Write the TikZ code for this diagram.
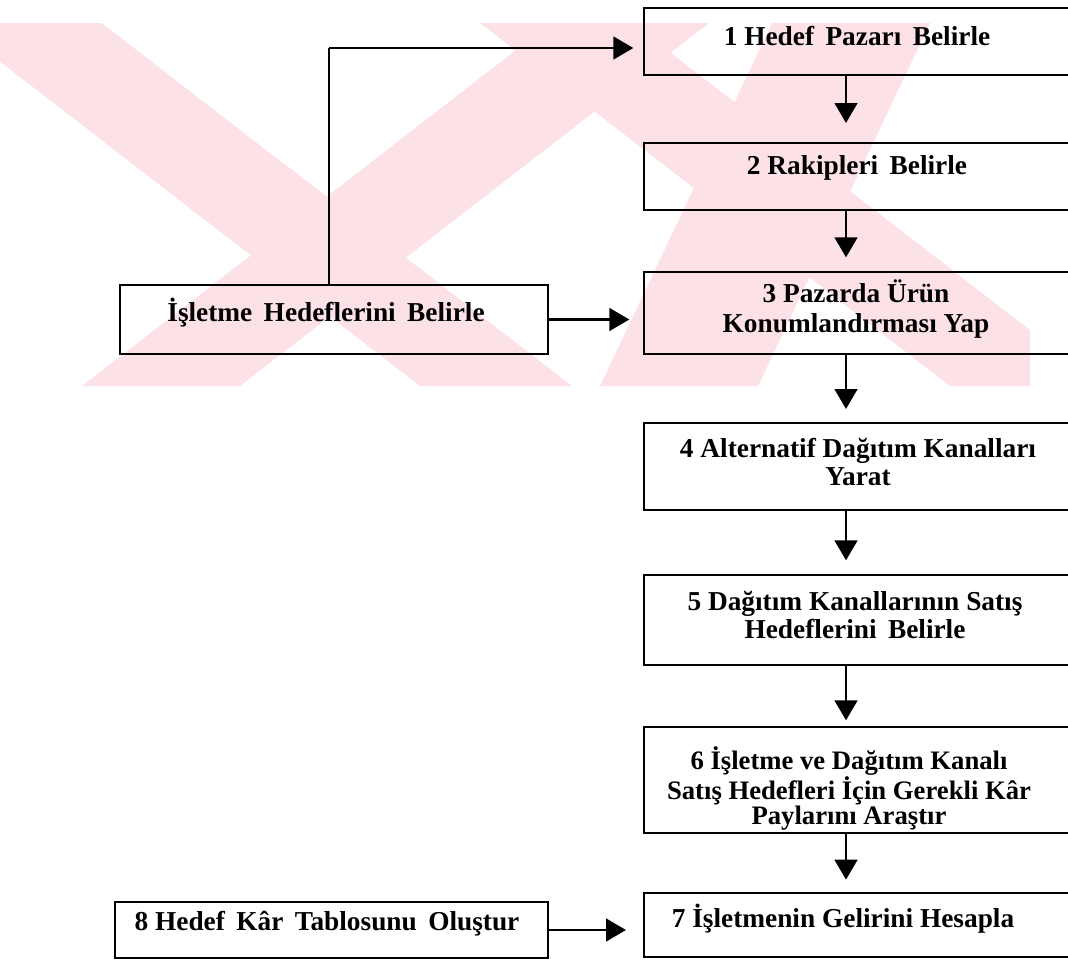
\documentclass[tikz,border=0pt]{standalone}
\usepackage{fontspec}
\setmainfont{Liberation Serif}
\usetikzlibrary{arrows.meta}
\definecolor{wmpink}{RGB}{252,226,231}
\begin{document}
\begin{tikzpicture}[x=0.75pt,y=-0.75pt,
  box/.style={draw, line width=2.2pt, inner sep=0pt, outer sep=0pt},
  lbl/.style={align=center, inner sep=0pt, font=\fontsize{20.5}{21}\selectfont\bfseries},
  arr/.style={line width=2pt, -{Triangle[length=15pt,width=17pt]}},
  link/.style={line width=2pt}]
\useasboundingbox (0,0) rectangle (1068,961);
\clip (0,0) rectangle (1068,961);

% background emblem
\begin{scope}
  \clip (0,23) rectangle (1030,386);
  \fill[wmpink] (-50,23) -- (102,23) -- (572,386) -- (420,386) -- cycle;
  \fill[wmpink] (82,386) -- (240,386) -- (709,23) -- (551,23) -- cycle;
  \fill[white] (102,23) -- (163,23) -- (283,163) -- cycle;
  \fill[wmpink] (480,23) -- (632,23) -- (1030,330) -- (1030,386) -- (950,386) -- cycle;
  \fill[wmpink] (600,386) -- (758,386) -- (930,23) -- (772,23) -- cycle;
\end{scope}

% boxes
\node[box, minimum width=327pt, minimum height=50.25pt] (b1) at (862,41.5) {};
\node[box, minimum width=327pt, minimum height=50.25pt] (b2) at (862,176.5) {};
\node[box, minimum width=327pt, minimum height=61.5pt] (b3) at (862,313) {};
\node[box, minimum width=327pt, minimum height=65.25pt] (b4) at (862,466.5) {};
\node[box, minimum width=327pt, minimum height=67.5pt] (b5) at (862,620) {};
\node[box, minimum width=327pt, minimum height=79.5pt] (b6) at (862,780) {};
\node[box, minimum width=327pt, minimum height=48pt] (b7) at (862,925) {};
\node[box, minimum width=321pt, minimum height=51.75pt] (b0) at (334,319.5) {};
\node[box, minimum width=324.75pt, minimum height=42pt] (b8) at (331.5,930) {};

% labels
\node[lbl] (t1) at (857,36) {1 Hedef\, Pazarı\, Belirle};
\node[lbl] (t2) at (857,168) {2 Rakipleri\, Belirle};
\node[lbl, font=\fontsize{20.5}{22.5}\selectfont\bfseries] (t3) at (856,309) {3 Pazarda Ürün\\Konumlandırması Yap};
\node[lbl] (t4) at (858,462) {4 Alternatif Dağıtım Kanalları\\Yarat};
\node[lbl] (t5) at (855,615) {5 Dağıtım Kanallarının Satış\\Hedeflerini\, Belirle};
\node[lbl, font=\fontsize{20}{18.75}\selectfont\bfseries] (t6) at (849,788) {6 İşletme ve Dağıtım Kanalı\\Satış Hedefleri İçin Gerekli Kâr\\Paylarını Araştır};
\node[lbl] (t7) at (843,919) {7 İşletmenin Gelirini Hesapla};
\node[lbl] (t8) at (327,924) {8 Hedef\, Kâr\, Tablosunu\, Oluştur};
\node[lbl] (t0) at (326,313) {İşletme\, Hedeflerini\, Belirle};

% connectors
\coordinate (ax) at (846,0);
\coordinate (k1) at (329,48);
\draw[arr, shorten >=15pt] (b1.south -| ax) -- (b2.north -| ax);
\draw[arr, shorten >=11pt] (b2.south -| ax) -- (b3.north -| ax);
\draw[arr, shorten >=10.5pt] (b3.south -| ax) -- (b4.north -| ax);
\draw[arr, shorten >=11pt] (b4.south -| ax) -- (b5.north -| ax);
\draw[arr, shorten >=5pt] (b5.south -| ax) -- (b6.north -| ax);
\draw[arr, shorten >=10pt] (b6.south -| ax) -- (b7.north -| ax);
\draw[link] (b0.north -| k1) -- (k1);
\draw[arr, shorten >=8pt] (k1) -- (k1 -| b1.west);
\draw[arr, shorten >=11pt] (b0.east) -- (b0.east -| b3.west);
\draw[arr, shorten >=13.5pt] (b8.east) -- (b8.east -| b7.west);
\end{tikzpicture}
\end{document}
